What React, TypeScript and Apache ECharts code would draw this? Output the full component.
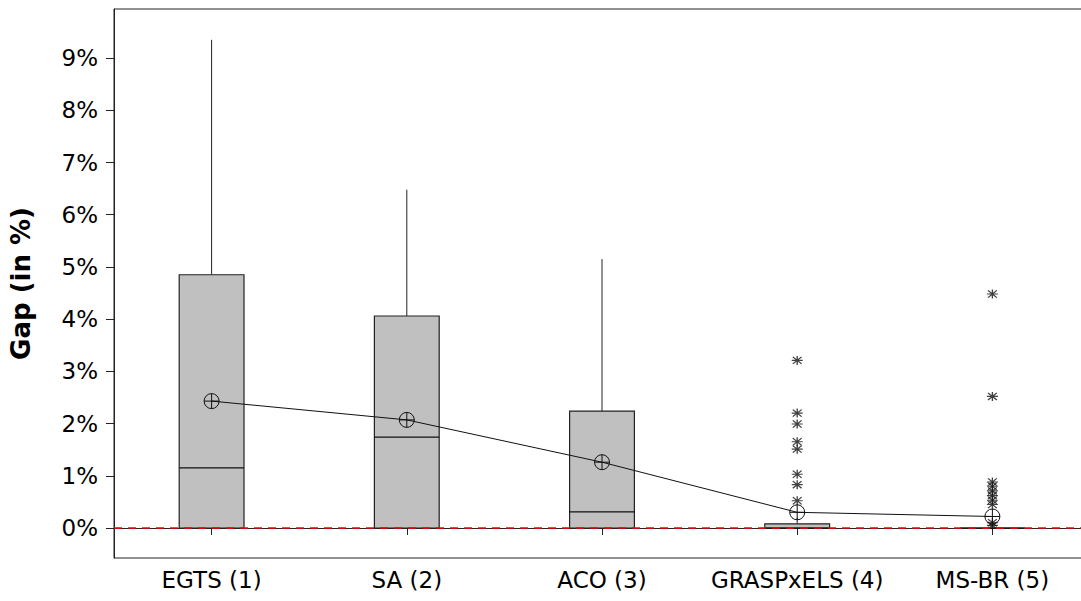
import React, { useEffect, useRef } from "react";
import * as echarts from "echarts";

const categories = ["EGTS (1)", "SA (2)", "ACO (3)", "GRASPxELS (4)", "MS-BR (5)"];
// [whiskerLow, Q1, median, Q3, whiskerHigh] in %
const boxStats = [
  [0, 0, 1.15, 4.85, 9.35],
  [0, 0, 1.74, 4.06, 6.48],
  [0, 0, 0.31, 2.24, 5.15],
  [0, 0, 0, 0.08, 0.2],
  [0, 0, 0, 0, 0],
];
const means = [2.43, 2.07, 1.26, 0.3, 0.22];
const outliersGrasp = [3.21, 2.2, 1.99, 1.65, 1.51, 1.03, 0.83, 0.52];
const outliersMsbr = [4.48, 2.52, 0.88, 0.8, 0.71, 0.62, 0.53, 0.45, 0.1, 0.05];
const yTicks = [0, 1, 2, 3, 4, 5, 6, 7, 8, 9];

const FONT = "DejaVu Sans";
const circlePlus =
  "path://M0,-10 A10,10 0 1,1 0,10 A10,10 0 1,1 0,-10 Z M-10,0 L10,0 M0,-10 L0,10";
const asterisk =
  "path://M0,-10 L0,10 M-10,0 L10,0 M-8,-8 L8,8 M-8,8 L8,-8";

export default function App() {
  const ref = useRef<HTMLDivElement>(null);
  useEffect(() => {
    const chart = echarts.init(ref.current!, null, { renderer: "svg" });
    const boxData = boxStats.map((s, i) => [i, ...s]);
    const outlierData = [
      ...outliersGrasp.map((v) => [3, v]),
      ...outliersMsbr.map((v) => [4, v]),
    ];
    chart.setOption({
      animation: false,
      grid: {
        left: 111,
        top: 9,
        right: 0,
        bottom: 43,
        show: true,
        borderColor: "#222",
        borderWidth: 1,
      },
      xAxis: {
        type: "category",
        data: categories,
        boundaryGap: true,
        axisLine: { show: true, lineStyle: { color: "#222", width: 1 } },
        axisTick: { show: true, alignWithLabel: true, length: 7, lineStyle: { color: "#222" } },
        axisLabel: { color: "#000", fontSize: 23, fontFamily: FONT, margin: 10, interval: 0 },
        splitLine: { show: false },
      },
      yAxis: {
        type: "value",
        min: -0.575,
        max: 9.94,
        name: "Gap (in %)",
        nameLocation: "middle",
        nameGap: 80,
        nameRotate: 90,
        nameTextStyle: { color: "#000", fontSize: 26, fontWeight: "bold", fontFamily: FONT },
        axisLine: { show: true, lineStyle: { color: "#222", width: 1 } },
        axisTick: { show: true, length: 8, customValues: yTicks, lineStyle: { color: "#222" } },
        axisLabel: {
          color: "#000",
          fontSize: 23,
          fontFamily: FONT,
          margin: 16,
          customValues: yTicks,
          formatter: (v: number) => `${v}%`,
        },
        splitLine: { show: false },
      },
      series: [
        {
          type: "scatter",
          data: [[0, 0]],
          symbolSize: 0,
          z: 1,
          silent: true,
          markLine: {
            silent: true,
            symbol: ["none", "none"],
            label: { show: false },
            lineStyle: { color: "#ff0000", type: [8, 6], width: 1.5 },
            data: [{ yAxis: 0 }],
          },
        },
        {
          type: "custom",
          z: 2,
          data: boxData,
          encode: { x: 0, y: [1, 2, 3, 4, 5] },
          renderItem: (params: any, api: any) => {
            const x = api.value(0);
            const lo = api.coord([x, api.value(1)]);
            const q1 = api.coord([x, api.value(2)]);
            const med = api.coord([x, api.value(3)]);
            const q3 = api.coord([x, api.value(4)]);
            const hi = api.coord([x, api.value(5)]);
            const bw = api.size([1, 0])[0] * 0.332;
            const cx = q1[0];
            const stroke = { stroke: "#222", lineWidth: 1 };
            return {
              type: "group",
              children: [
                {
                  type: "line",
                  shape: { x1: cx, y1: q3[1], x2: cx, y2: hi[1] },
                  style: stroke,
                },
                {
                  type: "line",
                  shape: { x1: cx, y1: q1[1], x2: cx, y2: lo[1] },
                  style: stroke,
                },
                {
                  type: "rect",
                  shape: { x: cx - bw / 2, y: q3[1], width: bw, height: q1[1] - q3[1] },
                  style: { fill: "#c0c0c0", stroke: "#222", lineWidth: 1.2 },
                },
                {
                  type: "line",
                  shape: { x1: cx - bw / 2, y1: med[1], x2: cx + bw / 2, y2: med[1] },
                  style: { stroke: "#111", lineWidth: 1.2 },
                },
              ],
            };
          },
        },
        {
          type: "line",
          z: 3,
          data: means.map((v, i) => [i, v]),
          symbol: circlePlus,
          symbolSize: 15,
          showSymbol: true,
          lineStyle: { color: "#111", width: 1 },
          itemStyle: { color: "rgba(0,0,0,0)", borderColor: "#111", borderWidth: 1 },
          emphasis: { disabled: true },
        },
        {
          type: "scatter",
          z: 4,
          data: outlierData,
          symbol: asterisk,
          symbolSize: [11, 9],
          itemStyle: { color: "rgba(0,0,0,0)", borderColor: "#111", borderWidth: 1.2 },
          emphasis: { disabled: true },
        },
      ],
    });
    return () => chart.dispose();
  }, []);
  return (
    <div
      ref={ref}
      style={{ position: "fixed", left: 0, top: 0, width: 1090, height: 601, background: "#fff" }}
    />
  );
}
